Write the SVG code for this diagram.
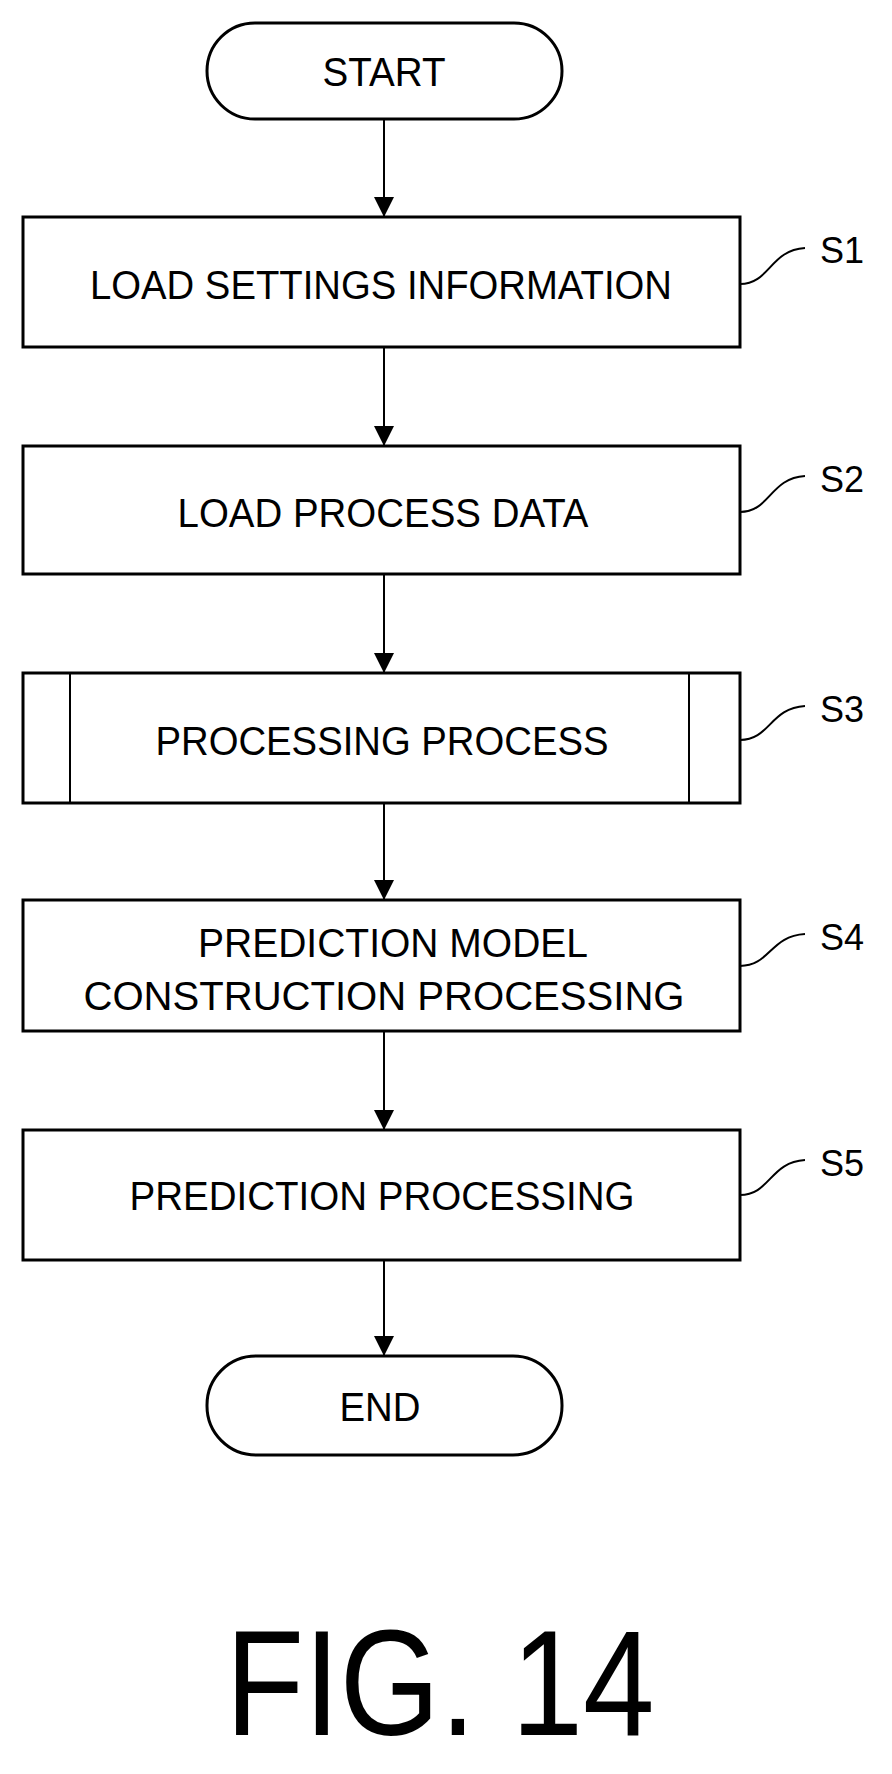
<svg xmlns="http://www.w3.org/2000/svg" width="892" height="1774" viewBox="0 0 892 1774">
<style>
.b{fill:#fff;stroke:#000;stroke-width:3}
.t{font-family:"Liberation Sans",Arial,sans-serif;font-size:40px;fill:#000;text-anchor:middle}
.l{font-family:"Liberation Sans",Arial,sans-serif;font-size:36px;fill:#000}
.c{fill:none;stroke:#000;stroke-width:2}
</style>
<defs><marker id="a" markerWidth="10" markerHeight="10" refX="9" refY="5" orient="auto" markerUnits="userSpaceOnUse"><path d="M0,0 L10,5 L0,10 z" transform="scale(2) translate(-5,-2.5)"/></marker>
<marker id="h" viewBox="0 0 10 10" refX="10" refY="5" markerWidth="20" markerHeight="20" orient="auto" markerUnits="userSpaceOnUse"><path d="M0,0 L10,5 L0,10 z"/></marker></defs>
<rect width="892" height="1774" fill="#fff"/>
<g id="connectors">
<line class="c" x1="384" y1="119" x2="384" y2="217" marker-end="url(#h)"/>
<line class="c" x1="384" y1="347" x2="384" y2="446" marker-end="url(#h)"/>
<line class="c" x1="384" y1="574" x2="384" y2="673" marker-end="url(#h)"/>
<line class="c" x1="384" y1="803" x2="384" y2="900" marker-end="url(#h)"/>
<line class="c" x1="384" y1="1031" x2="384" y2="1130" marker-end="url(#h)"/>
<line class="c" x1="384" y1="1260" x2="384" y2="1356" marker-end="url(#h)"/>
</g>
<g id="start"><rect class="b" x="207" y="23" width="355" height="96" rx="48"/><text class="t" x="384" y="86" textLength="123" lengthAdjust="spacingAndGlyphs">START</text></g>
<g id="s1"><rect class="b" x="23" y="217" width="717" height="130"/><text class="t" x="381" y="299" textLength="582" lengthAdjust="spacingAndGlyphs">LOAD SETTINGS INFORMATION</text>
<path class="c" d="M740,284 C770,284 770,250 805,248"/><text class="l" x="820" y="263">S1</text></g>
<g id="s2"><rect class="b" x="23" y="446" width="717" height="128"/><text class="t" x="383" y="527" textLength="411" lengthAdjust="spacingAndGlyphs">LOAD PROCESS DATA</text>
<path class="c" d="M740,512 C770,512 770,478 805,476"/><text class="l" x="820" y="492">S2</text></g>
<g id="s3"><rect class="b" x="23" y="673" width="717" height="130"/><line class="c" x1="70" y1="673" x2="70" y2="803"/><line class="c" x1="689" y1="673" x2="689" y2="803"/><text class="t" x="382" y="755" textLength="453" lengthAdjust="spacingAndGlyphs">PROCESSING PROCESS</text>
<path class="c" d="M740,740 C770,740 770,708 805,706"/><text class="l" x="820" y="722">S3</text></g>
<g id="s4"><rect class="b" x="23" y="900" width="717" height="131"/><text class="t" x="393" y="957" textLength="390" lengthAdjust="spacingAndGlyphs">PREDICTION MODEL</text><text class="t" x="384" y="1010" textLength="601" lengthAdjust="spacingAndGlyphs">CONSTRUCTION PROCESSING</text>
<path class="c" d="M740,966 C770,966 770,936 805,934"/><text class="l" x="820" y="950">S4</text></g>
<g id="s5"><rect class="b" x="23" y="1130" width="717" height="130"/><text class="t" x="382" y="1210" textLength="505" lengthAdjust="spacingAndGlyphs">PREDICTION PROCESSING</text>
<path class="c" d="M740,1195 C770,1195 770,1162 805,1160"/><text class="l" x="820" y="1176">S5</text></g>
<g id="end"><rect class="b" x="207" y="1356" width="355" height="99" rx="49"/><text class="t" x="380" y="1421" textLength="81" lengthAdjust="spacingAndGlyphs">END</text></g>
<text x="440" y="1735" font-family="Liberation Sans,Arial,sans-serif" font-size="150" text-anchor="middle" textLength="429" lengthAdjust="spacingAndGlyphs">FIG. 14</text>
</svg>
